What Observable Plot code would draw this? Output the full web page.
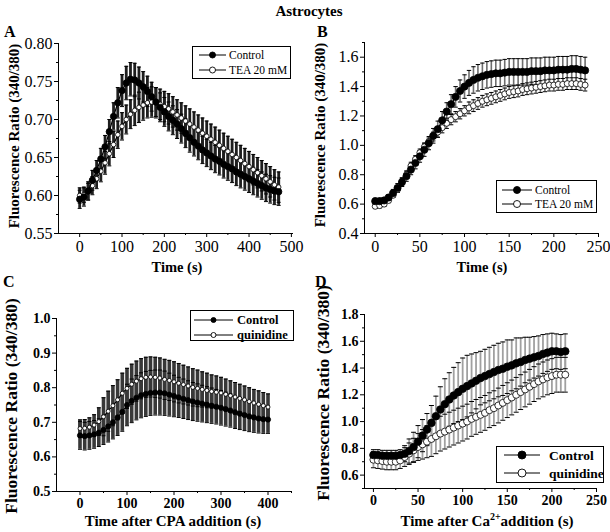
<!DOCTYPE html>
<html><head><meta charset="utf-8">
<script src="https://cdn.jsdelivr.net/npm/d3@7"></script>
<script src="https://cdn.jsdelivr.net/npm/@observablehq/plot@0.6"></script>
<style>
body{margin:0;background:#fff;}
#wrap{position:relative;width:610px;height:532px;overflow:hidden;background:#fff}
</style></head><body><div id="wrap"></div>
<script>
// ---------- text ----------
const titleText = "Astrocytes";
const panelLetters = ["A", "B", "C", "D"];
const yLabelText = "Fluorescence Ratio (340/380)";
const xLabelA = "Time (s)", xLabelB = "Time (s)", xLabelC = "Time after CPA addition (s)";
const xLabelD = ["Time after Ca", "2+", "addition (s)"];
const legendAB = ["Control", "TEA 20 mM"];
const legendCD = ["Control", "quinidine"];

// ---------- panel A ----------
const timeA = [0,10,20,30,40,50,60,70,80,90,100,110,120,130,140,150,160,170,180,190,200,210,220,230,240,250,260,270,280,290,300,310,320,330,340,350,360,370,380,390,400,410,420,430,440,450,460,470];
const ctrlA = [0.595,0.598,0.606,0.620,0.633,0.648,0.664,0.684,0.704,0.722,0.738,0.748,0.753,0.752,0.748,0.743,0.737,0.730,0.723,0.716,0.710,0.704,0.699,0.694,0.688,0.682,0.676,0.670,0.665,0.660,0.656,0.652,0.648,0.645,0.641,0.638,0.635,0.631,0.628,0.625,0.622,0.619,0.616,0.613,0.610,0.608,0.606,0.605];
const errCtrlA = [0.012,0.012,0.012,0.013,0.013,0.014,0.015,0.016,0.018,0.020,0.021,0.022,0.022,0.022,0.021,0.020,0.020,0.019,0.019,0.019,0.019,0.019,0.019,0.019,0.019,0.019,0.019,0.018,0.018,0.018,0.018,0.018,0.018,0.018,0.018,0.018,0.018,0.018,0.018,0.018,0.018,0.018,0.018,0.018,0.018,0.018,0.018,0.018];
const teaA = [0.600,0.601,0.605,0.613,0.622,0.632,0.643,0.655,0.667,0.680,0.691,0.700,0.707,0.712,0.716,0.719,0.722,0.723,0.722,0.720,0.717,0.714,0.710,0.706,0.702,0.698,0.694,0.690,0.686,0.682,0.678,0.674,0.670,0.666,0.662,0.658,0.654,0.650,0.646,0.642,0.638,0.634,0.630,0.626,0.622,0.618,0.614,0.611];
const errTeaA = [0.010,0.010,0.011,0.012,0.013,0.014,0.015,0.016,0.017,0.018,0.018,0.019,0.019,0.020,0.020,0.020,0.020,0.020,0.020,0.020,0.020,0.020,0.020,0.020,0.020,0.020,0.020,0.020,0.020,0.020,0.020,0.020,0.020,0.020,0.020,0.020,0.020,0.020,0.020,0.020,0.020,0.020,0.020,0.020,0.020,0.020,0.020,0.020];

// ---------- panel B ----------
const timeB = [0,5,10,15,20,25,30,35,40,45,50,55,60,65,70,75,80,85,90,95,100,105,110,115,120,125,130,135,140,145,150,155,160,165,170,175,180,185,190,195,200,205,210,215,220,225,230,235];
const ctrlB = [0.62,0.62,0.625,0.645,0.675,0.71,0.75,0.79,0.835,0.88,0.925,0.97,1.015,1.065,1.11,1.17,1.23,1.28,1.33,1.37,1.40,1.425,1.445,1.46,1.47,1.48,1.485,1.49,1.49,1.495,1.50,1.50,1.50,1.50,1.50,1.505,1.505,1.505,1.51,1.51,1.51,1.515,1.515,1.515,1.52,1.52,1.515,1.51];
const errCtrlB = [0.02,0.02,0.02,0.02,0.025,0.03,0.03,0.035,0.035,0.04,0.04,0.045,0.045,0.05,0.055,0.06,0.06,0.065,0.07,0.075,0.08,0.085,0.09,0.09,0.09,0.09,0.09,0.09,0.09,0.09,0.09,0.09,0.09,0.09,0.09,0.09,0.09,0.09,0.09,0.09,0.09,0.09,0.09,0.09,0.09,0.09,0.09,0.09];
const teaB = [0.585,0.59,0.60,0.625,0.66,0.70,0.75,0.80,0.86,0.905,0.95,0.99,1.025,1.06,1.09,1.12,1.15,1.175,1.195,1.215,1.235,1.255,1.27,1.285,1.30,1.31,1.32,1.33,1.34,1.35,1.36,1.365,1.37,1.38,1.385,1.39,1.395,1.40,1.405,1.41,1.41,1.415,1.415,1.42,1.42,1.42,1.415,1.41];
const errTeaB = [0.015,0.015,0.015,0.015,0.015,0.02,0.025,0.025,0.025,0.025,0.025,0.025,0.025,0.03,0.035,0.035,0.035,0.035,0.035,0.035,0.035,0.04,0.04,0.04,0.04,0.04,0.04,0.04,0.04,0.04,0.04,0.04,0.04,0.04,0.04,0.04,0.04,0.04,0.04,0.04,0.04,0.04,0.04,0.04,0.04,0.04,0.04,0.04];

// ---------- panel C ----------
const timeC = [0,10,20,30,40,50,60,70,80,90,100,110,120,130,140,150,160,170,180,190,200,210,220,230,240,250,260,270,280,290,300,310,320,330,340,350,360,370,380,390,400];
const ctrlC = [0.662,0.660,0.662,0.665,0.670,0.678,0.688,0.700,0.714,0.730,0.750,0.762,0.771,0.778,0.782,0.785,0.786,0.786,0.784,0.780,0.776,0.772,0.768,0.764,0.760,0.757,0.754,0.751,0.748,0.745,0.742,0.738,0.734,0.729,0.725,0.721,0.717,0.714,0.711,0.709,0.708];
const errCtrlC = [0.040,0.040,0.040,0.040,0.040,0.042,0.045,0.048,0.052,0.056,0.060,0.063,0.064,0.065,0.065,0.065,0.065,0.065,0.064,0.062,0.060,0.058,0.057,0.056,0.055,0.054,0.053,0.052,0.051,0.050,0.050,0.049,0.048,0.047,0.046,0.045,0.044,0.043,0.042,0.041,0.040];
const quinC = [0.682,0.683,0.686,0.692,0.702,0.716,0.732,0.748,0.765,0.784,0.798,0.810,0.819,0.826,0.830,0.831,0.830,0.828,0.824,0.821,0.817,0.813,0.809,0.805,0.801,0.798,0.795,0.792,0.789,0.787,0.785,0.781,0.777,0.773,0.769,0.765,0.760,0.756,0.752,0.748,0.744];
const errQuinC = [0.025,0.025,0.027,0.030,0.040,0.055,0.058,0.058,0.058,0.058,0.058,0.058,0.058,0.058,0.058,0.058,0.058,0.058,0.058,0.058,0.058,0.057,0.056,0.055,0.054,0.053,0.051,0.050,0.048,0.047,0.045,0.044,0.043,0.042,0.041,0.040,0.040,0.039,0.039,0.038,0.038];

// ---------- panel D ----------
const timeD = [0,5,10,15,20,25,30,35,40,45,50,55,60,65,70,75,80,85,90,95,100,105,110,115,120,125,130,135,140,145,150,155,160,165,170,175,180,185,190,195,200,205,210,215];
const ctrlD = [0.75,0.75,0.745,0.745,0.745,0.745,0.75,0.76,0.78,0.81,0.85,0.895,0.94,0.99,1.04,1.09,1.13,1.165,1.195,1.22,1.245,1.265,1.285,1.305,1.325,1.34,1.355,1.37,1.385,1.395,1.41,1.42,1.435,1.445,1.46,1.47,1.48,1.49,1.505,1.515,1.525,1.525,1.52,1.525];
const errCtrlD = [0.04,0.04,0.04,0.04,0.04,0.04,0.04,0.06,0.09,0.11,0.12,0.12,0.12,0.13,0.15,0.17,0.19,0.20,0.21,0.22,0.23,0.23,0.22,0.21,0.20,0.20,0.20,0.20,0.20,0.20,0.20,0.19,0.19,0.18,0.17,0.16,0.155,0.15,0.145,0.14,0.135,0.13,0.13,0.13];
const quinD = [0.715,0.71,0.705,0.70,0.70,0.70,0.71,0.735,0.76,0.785,0.81,0.83,0.85,0.87,0.89,0.91,0.925,0.94,0.955,0.97,0.985,1.00,1.02,1.035,1.05,1.065,1.085,1.10,1.12,1.14,1.16,1.18,1.20,1.22,1.24,1.26,1.28,1.30,1.315,1.33,1.34,1.35,1.35,1.35];
const errQuinD = [0.06,0.06,0.06,0.06,0.06,0.06,0.06,0.07,0.08,0.09,0.10,0.11,0.12,0.13,0.13,0.13,0.13,0.13,0.13,0.13,0.13,0.13,0.13,0.13,0.13,0.13,0.13,0.13,0.13,0.13,0.13,0.13,0.13,0.13,0.13,0.13,0.13,0.13,0.13,0.13,0.13,0.13,0.13,0.13];

// ---------- tick values ----------
const xTicksA = [0,100,200,300,400,500], xMinorA = [50,150,250,350,450];
const yTicksA = [0.55,0.60,0.65,0.70,0.75,0.80], yMinorA = [0.575,0.625,0.675,0.725,0.775];
const xTicksB = [0,50,100,150,200,250], xMinorB = [25,75,125,175,225];
const yTicksB = [0.4,0.6,0.8,1.0,1.2,1.4,1.6], yMinorB = [0.5,0.7,0.9,1.1,1.3,1.5,1.7];
const xTicksC = [0,100,200,300,400], xMinorC = [50,150,250,350,450];
const yTicksC = [0.5,0.6,0.7,0.8,0.9,1.0], yMinorC = [0.55,0.65,0.75,0.85,0.95];
const xTicksD = [0,50,100,150,200,250], xMinorD = [25,75,125,175,225];
const yTicksD = [0.6,0.8,1.0,1.2,1.4,1.6,1.8], yMinorD = [0.5,0.7,0.9,1.1,1.3,1.5,1.7];

const FONT = '"Liberation Serif","Times New Roman",serif';
const cap = {draw(ctx, size){ const w = Math.sqrt(size/Math.PI); ctx.moveTo(-w,0); ctx.lineTo(w,0); }};

function rowsOf(t, v, e){ return t.map((x,i)=>({t:x, v:v[i], e:e[i]})); }

function panel(cfg){
  const marks = [];
  const S = cfg.series.map(s => ({...s, rows: rowsOf(s.t, s.v, s.e)}));
  S.forEach(s => marks.push(Plot.ruleX(s.rows, {x:"t", y1:d=>d.v-d.e, y2:d=>d.v+d.e, stroke:cfg.barColor, strokeWidth:cfg.barWidth})));
  S.forEach(s => {
    marks.push(Plot.dot(s.rows, {x:"t", y:d=>d.v+d.e, symbol:cap, r:cfg.capR, stroke:"black", strokeWidth:1}));
    marks.push(Plot.dot(s.rows, {x:"t", y:d=>d.v-d.e, symbol:cap, r:cfg.capR, stroke:"black", strokeWidth:1}));
  });
  [S[1], S[0]].forEach(s => {
    marks.push(Plot.line(s.rows, {x:"t", y:"v", stroke:"black", strokeWidth:1.2}));
    marks.push(Plot.dot(s.rows, {x:"t", y:"v", r:s.r, fill:s.fill, stroke:"black", strokeWidth:0.8}));
  });
  marks.push(Plot.ruleX([cfg.xDomain[0]], {stroke:"black", strokeWidth:1}));
  marks.push(Plot.ruleY([cfg.yDomain[0]], {stroke:"black", strokeWidth:1}));
  marks.push(Plot.axisX({ticks:cfg.xTicks, tickSize:4, tickPadding:3, tickFormat:d=>String(d), label:null}));
  marks.push(Plot.axisX({ticks:cfg.xMinor, tickSize:2, tickFormat:()=>"", label:null}));
  marks.push(Plot.axisY({ticks:cfg.yTicks, tickSize:4, tickPadding:2, tickFormat:d3.format(cfg.yFmt), label:null}));
  marks.push(Plot.axisY({ticks:cfg.yMinor, tickSize:2, tickFormat:()=>"", label:null}));
  const svg = Plot.plot({
    width:cfg.w, height:cfg.h,
    marginLeft:cfg.m[3], marginTop:cfg.m[0], marginRight:cfg.m[1], marginBottom:cfg.m[2],
    x:{domain:cfg.xDomain, label:null}, y:{domain:cfg.yDomain, label:null},
    style:{fontFamily:FONT, fontSize:cfg.fs+"px", fontWeight:cfg.bold?"bold":"normal", color:"black", background:"none", overflow:"visible"},
    marks
  });
  svg.style.position = "absolute";
  svg.style.left = cfg.left + "px";
  svg.style.top = cfg.top + "px";
  document.getElementById("wrap").appendChild(svg);
}

panel({left:0, top:0, w:305, h:265, m:[43,12,32,58], xDomain:[-50,505], yDomain:[0.55,0.80],
  xTicks:xTicksA, xMinor:xMinorA, yTicks:yTicksA, yMinor:yMinorA, yFmt:".2f", fs:16, bold:false,
  barColor:"#1e1e1e", barWidth:2.8, capR:2,
  series:[{t:timeA, v:ctrlA, e:errCtrlA, fill:"black", r:3.2}, {t:timeA, v:teaA, e:errTeaA, fill:"white", r:2.3}]});
panel({left:305, top:0, w:305, h:265, m:[42,12,32,59], xDomain:[-12,250], yDomain:[0.4,1.7],
  xTicks:xTicksB, xMinor:xMinorB, yTicks:yTicksB, yMinor:yMinorB, yFmt:".1f", fs:16, bold:false,
  barColor:"#6e6e6e", barWidth:1.6, capR:2.2,
  series:[{t:timeB, v:ctrlB, e:errCtrlB, fill:"black", r:3.6}, {t:timeB, v:teaB, e:errTeaB, fill:"white", r:3}]});
panel({left:0, top:265, w:305, h:267, m:[53,14,41,56], xDomain:[-50,450], yDomain:[0.5,1.0],
  xTicks:xTicksC, xMinor:xMinorC, yTicks:yTicksC, yMinor:yMinorC, yFmt:".1f", fs:14, bold:true,
  barColor:"#383838", barWidth:3.6, capR:2,
  series:[{t:timeC, v:ctrlC, e:errCtrlC, fill:"black", r:2.6}, {t:timeC, v:quinC, e:errQuinC, fill:"white", r:2}]});
panel({left:305, top:265, w:305, h:267, m:[49,14,44,59], xDomain:[-10,250], yDomain:[0.5,1.8],
  xTicks:xTicksD, xMinor:xMinorD, yTicks:yTicksD, yMinor:yMinorD, yFmt:".1f", fs:14, bold:true,
  barColor:"#a0a0a0", barWidth:1.8, capR:2.5,
  series:[{t:timeD, v:ctrlD, e:errCtrlD, fill:"black", r:3.8}, {t:timeD, v:quinD, e:errQuinD, fill:"white", r:3.5}]});

// ---------- annotation overlay ----------
const ov = d3.select("#wrap").append("svg").attr("width",610).attr("height",532)
  .style("position","absolute").style("left","0px").style("top","0px")
  .style("font-family",FONT).style("pointer-events","none");

ov.append("text").attr("x",309).attr("y",16).attr("text-anchor","middle").attr("font-weight","bold").attr("font-size",15).text(titleText);
[[4,37],[317,37],[3,287],[315,287]].forEach((p,i)=>
  ov.append("text").attr("x",p[0]).attr("y",p[1]).attr("font-weight","bold").attr("font-size",16).text(panelLetters[i]));

[[14,136,15],[320,135,15],[11,406,17.5],[323,393,17.5]].forEach(p=>
  ov.append("text").attr("transform",`translate(${p[0]},${p[1]}) rotate(-90)`).attr("dy","0.35em")
    .attr("text-anchor","middle").attr("font-weight","bold").attr("font-size",p[2]).text(yLabelText));

ov.append("text").attr("x",177).attr("y",272).attr("text-anchor","middle").attr("font-weight","bold").attr("font-size",14.5).text(xLabelA);
ov.append("text").attr("x",482).attr("y",272).attr("text-anchor","middle").attr("font-weight","bold").attr("font-size",14.5).text(xLabelB);
ov.append("text").attr("x",173).attr("y",526).attr("text-anchor","middle").attr("font-weight","bold").attr("font-size",15).text(xLabelC);
const tD = ov.append("text").attr("x",487).attr("y",526).attr("text-anchor","middle").attr("font-weight","bold").attr("font-size",15);
tD.append("tspan").text(xLabelD[0]);
tD.append("tspan").attr("dy",-6).attr("font-size",10).text(xLabelD[1]);
tD.append("tspan").attr("dy",6).text(xLabelD[2]);

function legend(box, rowsY, lineX, textX, r, fs, bold, labels){
  ov.append("rect").attr("x",box[0]+0.5).attr("y",box[1]+0.5).attr("width",box[2]).attr("height",box[3])
    .attr("fill","white").attr("stroke","black").attr("stroke-width",1);
  labels.forEach((lab,i)=>{
    const y = rowsY[i];
    ov.append("line").attr("x1",lineX[0]).attr("x2",lineX[1]).attr("y1",y).attr("y2",y).attr("stroke","black");
    ov.append("circle").attr("cx",(lineX[0]+lineX[1])/2).attr("cy",y).attr("r",r)
      .attr("fill", i===0?"black":"white").attr("stroke","black").attr("stroke-width",0.9);
    ov.append("text").attr("x",textX).attr("y",y).attr("dy","0.35em").attr("font-size",fs)
      .attr("font-weight",bold?"bold":"normal").text(lab);
  });
}
legend([192,46,98,32],[55,70],[199,226],229,3,11.5,false,legendAB);
legend([496,180,100,32],[190,204],[502,532],535,3.5,11.5,false,legendAB);
legend([190,310,103,30],[320,335],[194,233],237,2.5,12.5,true,legendCD);
legend([496,446,107,36],[455,473],[504,540],549,4,13.5,true,legendCD);
</script></body></html>
